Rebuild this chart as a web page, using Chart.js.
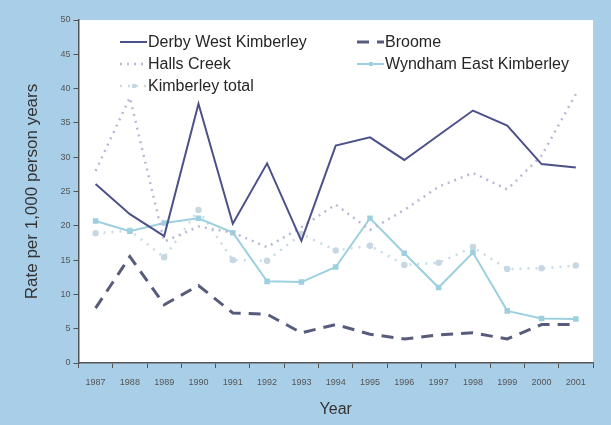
<!DOCTYPE html>
<html>
<head>
<meta charset="utf-8">
<script src="https://cdn.jsdelivr.net/npm/chart.js@4.4.1/dist/chart.umd.min.js"></script>
<style>
  html, body { margin: 0; padding: 0; background: #a9cfe8; }
  #wrap { width: 611px; height: 425px; }
</style>
</head>
<body>
<div id="wrap"><canvas id="rateChart" width="611" height="425"></canvas></div>
<script>
const years = ['1987', '1988', '1989', '1990', '1991', '1992', '1993', '1994', '1995', '1996', '1997', '1998', '1999', '2000', '2001'];

const derbyWestKimberley = [26.1, 21.7, 18.5, 37.8, 20.3, 29.1, 17.8, 31.7, 32.9, 29.6, 33.2, 36.8, 34.6, 29.0, 28.5];
const broome = [8.0, 15.5, 8.5, 11.3, 7.3, 7.1, 4.4, 5.6, 4.2, 3.5, 4.1, 4.4, 3.5, 5.6, 5.6];
const hallsCreek = [28.0, 38.7, 17.7, 19.9, 19.0, 16.9, 19.8, 23.1, 19.4, 22.3, 25.7, 27.7, 25.3, 30.2, 39.2];
const wyndhamEastKimberley = [20.7, 19.2, 20.4, 21.1, 19.0, 11.9, 11.8, 14.0, 21.1, 16.0, 11.0, 16.1, 7.6, 6.5, 6.4];
const kimberleyTotal = [18.9, 19.3, 15.4, 22.3, 15.0, 14.9, 18.8, 16.4, 17.1, 14.3, 14.6, 16.9, 13.7, 13.8, 14.2];

const yTicks = [0, 5, 10, 15, 20, 25, 30, 35, 40, 45, 50];

const FONT = '"Liberation Sans", Arial, sans-serif';

// white plot area on the blue page
const plotBg = {
    id: 'plotBg',
    beforeDraw(chart) {
        const { ctx, chartArea: a } = chart;
        ctx.save();
        ctx.fillStyle = '#ffffff';
        ctx.fillRect(a.left, a.top, a.right - a.left, a.bottom - a.top);
        ctx.restore();
    }
};

// legend drawn inside the plot, two columns
const innerLegend = {
    id: 'innerLegend',
    afterDatasetsDraw(chart) {
        const { ctx } = chart;
        const slots = [[120, 42], [357, 42], [120, 64], [357, 64], [120, 86]];
        ctx.save();
        chart.data.datasets.forEach((ds, i) => {
            const [x, y] = slots[i];
            ctx.strokeStyle = ds.borderColor;
            ctx.lineWidth = ds.borderWidth;
            ctx.setLineDash(ds.borderDash || []);
            ctx.beginPath();
            ctx.moveTo(x, y);
            ctx.lineTo(x + 27, y);
            ctx.stroke();
            ctx.setLineDash([]);
            if (ds.pointRadius > 0) {
                ctx.fillStyle = ds.pointBackgroundColor;
                ctx.fillRect(x + 12, y - 2, 4, 4);
            }
            ctx.fillStyle = '#262626';
            ctx.font = '16px ' + FONT;
            ctx.textBaseline = 'middle';
            ctx.fillText(ds.label, x + 28, y + 1);
        });
        ctx.restore();
    }
};

new Chart(document.getElementById('rateChart').getContext('2d'), {
    type: 'line',
    data: {
        labels: years,
        datasets: [
            {
                label: 'Derby West Kimberley',
                data: derbyWestKimberley,
                borderColor: '#4d5189',
                borderWidth: 2,
                pointRadius: 0,
                tension: 0
            },
            {
                label: 'Broome',
                data: broome,
                borderColor: '#585c7c',
                borderWidth: 3,
                borderDash: [12, 8],
                pointRadius: 0,
                tension: 0
            },
            {
                label: 'Halls Creek',
                data: hallsCreek,
                borderColor: '#b7bad6',
                borderWidth: 2.5,
                borderDash: [2, 5],
                pointRadius: 0,
                tension: 0
            },
            {
                label: 'Wyndham East Kimberley',
                data: wyndhamEastKimberley,
                borderColor: '#9dd0de',
                borderWidth: 2,
                pointStyle: 'rect',
                pointRadius: 2.5,
                pointBackgroundColor: '#9dd0de',
                pointBorderColor: '#9dd0de',
                tension: 0
            },
            {
                label: 'Kimberley total',
                data: kimberleyTotal,
                borderColor: '#c8dce7',
                borderWidth: 2.5,
                borderDash: [2, 6],
                pointStyle: 'circle',
                pointRadius: 2,
                pointBackgroundColor: '#c8d8e2',
                pointBorderColor: '#c8d8e2',
                tension: 0
            }
        ]
    },
    options: {
        responsive: false,
        animation: false,
        layout: { padding: { top: 20, right: 18, bottom: 6, left: 22 } },
        plugins: {
            legend: { display: false },
            tooltip: { enabled: false }
        },
        scales: {
            x: {
                offset: true,
                grid: {
                    offset: true,
                    drawOnChartArea: false,
                    drawTicks: true,
                    tickLength: 5,
                    color: '#555'
                },
                border: { color: '#555', width: 1.5 },
                ticks: {
                    color: '#555',
                    font: { size: 9, family: FONT },
                    maxRotation: 0,
                    autoSkip: false,
                    padding: 9
                },
                title: {
                    display: true,
                    text: 'Year',
                    color: '#333',
                    font: { size: 16, family: FONT },
                    padding: { top: 3, bottom: 0 }
                }
            },
            y: {
                min: 0,
                max: 50,
                afterBuildTicks: axis => { axis.ticks = yTicks.map(v => ({ value: v })); },
                grid: {
                    drawOnChartArea: false,
                    drawTicks: true,
                    tickLength: 5,
                    color: '#555'
                },
                border: { color: '#555', width: 1.5 },
                ticks: {
                    color: '#555',
                    font: { size: 9, family: FONT },
                    padding: 3
                },
                title: {
                    display: true,
                    text: 'Rate per 1,000 person years',
                    color: '#333',
                    font: { size: 17, family: FONT },
                    padding: { top: 0, bottom: 15 }
                }
            }
        }
    },
    plugins: [plotBg, innerLegend]
});
</script>
</body>
</html>
